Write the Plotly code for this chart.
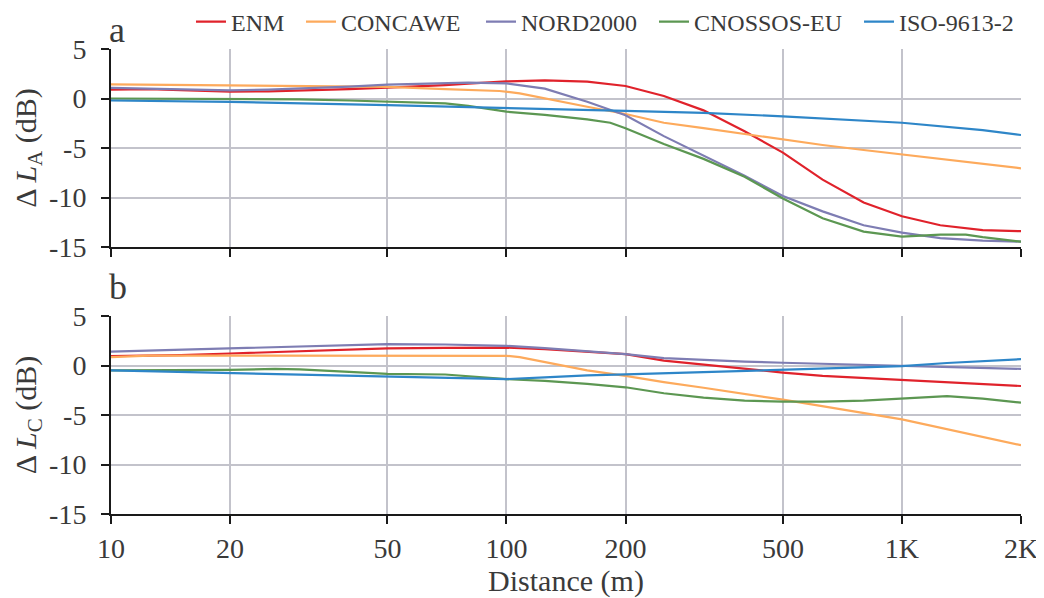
import plotly.graph_objects as go

# ---------------- data ----------------
series_names = ["ENM", "CONCAWE", "NORD2000", "CNOSSOS-EU", "ISO-9613-2"]
series_colors = ["#e0222b", "#fdaa5c", "#7e7db3", "#5c9752", "#2e86c8"]

# Panel a: Delta L_A (dB)
a_enm_d = [10, 12.5, 15, 20, 25, 30, 40, 50, 60, 70, 80, 100, 125, 160, 200, 250, 315, 400, 500, 630, 800, 1000, 1250, 1600, 2000]
a_enm_v = [0.9, 0.95, 0.85, 0.68, 0.72, 0.8, 0.95, 1.1, 1.22, 1.35, 1.5, 1.73, 1.83, 1.7, 1.26, 0.25, -1.2, -3.3, -5.47, -8.2, -10.5, -11.9, -12.8, -13.3, -13.4]

a_con_d = [10, 15, 20, 30, 50, 70, 80, 96, 108, 125, 160, 200, 250, 315, 400, 500, 630, 800, 1000, 1250, 1600, 2000]
a_con_v = [1.43, 1.38, 1.33, 1.25, 1.17, 0.95, 0.86, 0.76, 0.52, 0.0, -0.83, -1.57, -2.45, -3.0, -3.6, -4.19, -4.7, -5.2, -5.64, -6.1, -6.6, -7.05]

a_nor_d = [10, 12.5, 15, 20, 25, 30, 40, 50, 60, 70, 80, 100, 125, 160, 200, 250, 315, 400, 500, 630, 800, 1000, 1250, 1600, 2000]
a_nor_v = [1.07, 1.0, 0.95, 0.83, 0.9, 1.0, 1.2, 1.4, 1.5, 1.57, 1.6, 1.53, 1.0, -0.32, -1.7, -3.8, -5.8, -7.8, -9.85, -11.4, -12.8, -13.55, -14.1, -14.35, -14.46]

a_cno_d = [10, 20, 30, 40, 50, 60, 70, 80, 100, 125, 160, 183, 200, 250, 315, 400, 500, 630, 800, 1000, 1250, 1450, 1600, 2000]
a_cno_v = [0.0, -0.03, -0.08, -0.2, -0.33, -0.42, -0.49, -0.75, -1.33, -1.65, -2.1, -2.45, -3.0, -4.6, -6.1, -7.9, -10.1, -12.1, -13.45, -13.96, -13.75, -13.75, -14.0, -14.46]

a_iso_d = [10, 20, 50, 100, 200, 315, 500, 1000, 1250, 1600, 2000]
a_iso_v = [-0.2, -0.35, -0.66, -0.99, -1.26, -1.45, -1.8, -2.45, -2.8, -3.2, -3.69]

# Panel b: Delta L_C (dB)
b_enm_d = [10, 15, 20, 30, 40, 50, 70, 100, 125, 160, 200, 250, 315, 400, 500, 630, 800, 1000, 1250, 1600, 2000]
b_enm_v = [0.94, 1.05, 1.21, 1.45, 1.6, 1.72, 1.78, 1.8, 1.65, 1.41, 1.15, 0.5, 0.1, -0.35, -0.72, -1.05, -1.25, -1.45, -1.68, -1.9, -2.07]

b_con_d = [10, 12.5, 20, 50, 100, 108, 160, 200, 250, 315, 500, 1000, 2000]
b_con_v = [0.84, 1.0, 1.0, 1.0, 0.98, 0.84, -0.5, -1.05, -1.68, -2.25, -3.45, -5.45, -8.05]

b_nor_d = [10, 15, 20, 30, 40, 50, 70, 100, 125, 160, 200, 250, 315, 400, 500, 710, 1000, 1250, 1600, 2000]
b_nor_v = [1.41, 1.6, 1.78, 1.95, 2.08, 2.15, 2.12, 1.99, 1.75, 1.41, 1.15, 0.74, 0.55, 0.4, 0.28, 0.13, 0.0, -0.1, -0.2, -0.34]

b_cno_d = [10, 20, 26, 30, 40, 50, 70, 100, 125, 160, 200, 250, 315, 400, 500, 630, 800, 1000, 1300, 1600, 2000]
b_cno_v = [-0.5, -0.44, -0.34, -0.4, -0.65, -0.84, -0.91, -1.38, -1.55, -1.85, -2.2, -2.8, -3.25, -3.55, -3.65, -3.65, -3.55, -3.35, -3.1, -3.35, -3.75]

b_iso_d = [10, 20, 50, 70, 100, 125, 160, 200, 315, 500, 700, 1000, 1300, 1600, 2000]
b_iso_v = [-0.5, -0.77, -1.14, -1.25, -1.37, -1.2, -1.0, -0.9, -0.67, -0.44, -0.27, -0.07, 0.25, 0.45, 0.64]

x_tickvals = [10, 20, 50, 100, 200, 500, 1000, 2000]
x_ticktext = ["10", "20", "50", "100", "200", "500", "1K", "2K"]
y_tickvals = [-15, -10, -5, 0, 5]
y_ticktext = ["-15", "-10", "-5", "0", "5"]

panel_a = [(a_enm_d, a_enm_v), (a_con_d, a_con_v), (a_nor_d, a_nor_v), (a_cno_d, a_cno_v), (a_iso_d, a_iso_v)]
panel_b = [(b_enm_d, b_enm_v), (b_con_d, b_con_v), (b_nor_d, b_nor_v), (b_cno_d, b_cno_v), (b_iso_d, b_iso_v)]

# ---------------- figure ----------------
FONT = "Liberation Serif"
TXT = "#3a3a3a"
GRID = "#c3c3cb"
legend_ids = ["legend", "legend2", "legend3", "legend4", "legend5"]
legend_x = [0.0879, 0.2088, 0.4066, 0.5967, 0.8220]

fig = go.Figure()
for i, (d, v) in enumerate(panel_a):
    fig.add_trace(go.Scatter(x=d, y=v, mode="lines", name=series_names[i],
                             line=dict(color=series_colors[i], width=2.2),
                             xaxis="x", yaxis="y", showlegend=True, legend=legend_ids[i]))
for i, (d, v) in enumerate(panel_b):
    fig.add_trace(go.Scatter(x=d, y=v, mode="lines", name=series_names[i],
                             line=dict(color=series_colors[i], width=2.2),
                             xaxis="x2", yaxis="y2", showlegend=False))

xcommon = dict(type="log", range=[1, 3.30103], tickvals=x_tickvals, ticktext=x_ticktext,
               showgrid=True, gridcolor=GRID, gridwidth=2,
               showline=True, linecolor="#1a1a1a", linewidth=2,
               ticks="outside", ticklen=8, tickwidth=2, tickcolor="#1a1a1a",
               tickfont=dict(family=FONT, size=28, color=TXT), zeroline=False)
ycommon = dict(range=[-15, 5], tickvals=y_tickvals, ticktext=y_ticktext,
               showgrid=True, gridcolor=GRID, gridwidth=2,
               showline=True, linecolor="#1a1a1a", linewidth=2,
               ticks="outside", ticklen=8, tickwidth=2, tickcolor="#1a1a1a",
               ticklabelstandoff=9,
               tickfont=dict(family=FONT, size=28, color=TXT), zeroline=False)

layout_legends = {}
for i, lid in enumerate(legend_ids):
    layout_legends[lid] = dict(orientation="h", x=legend_x[i], xanchor="left", xref="paper",
                               y=0.9766, yanchor="middle", yref="container",
                               font=dict(family=FONT, size=24, color=TXT),
                               bgcolor="rgba(0,0,0,0)", itemwidth=30)

fig.update_layout(
    width=1044, height=598,
    margin=dict(l=103, r=31, t=41, b=92, autoexpand=False),
    paper_bgcolor="white", plot_bgcolor="white",
    font=dict(family=FONT, color=TXT),
    xaxis=dict(**xcommon, domain=[0, 1], anchor="y", showticklabels=False),
    yaxis=dict(**ycommon, domain=[0.5742, 1], anchor="x",
               title=dict(text="\u0394 <i>L</i><sub>A</sub> (dB)", font=dict(family=FONT, size=30, color=TXT), standoff=4)),
    xaxis2=dict(**xcommon, domain=[0, 1], anchor="y2", matches="x",
                title=dict(text="Distance (m)", font=dict(family=FONT, size=30, color=TXT), standoff=6)),
    yaxis2=dict(**ycommon, domain=[0, 0.4258], anchor="x2",
                title=dict(text="\u0394 <i>L</i><sub>C</sub> (dB)", font=dict(family=FONT, size=30, color=TXT), standoff=4)),
    annotations=[
        dict(text="a", x=-0.004, xref="paper", xanchor="left", y=1.0882, yref="paper", yanchor="top",
             showarrow=False, font=dict(family=FONT, size=36, color=TXT)),
        dict(text="b", x=-0.004, xref="paper", xanchor="left", y=0.441, yref="paper", yanchor="bottom",
             showarrow=False, font=dict(family=FONT, size=36, color=TXT)),
    ],
    **layout_legends,
)

fig.write_html("out.html")
